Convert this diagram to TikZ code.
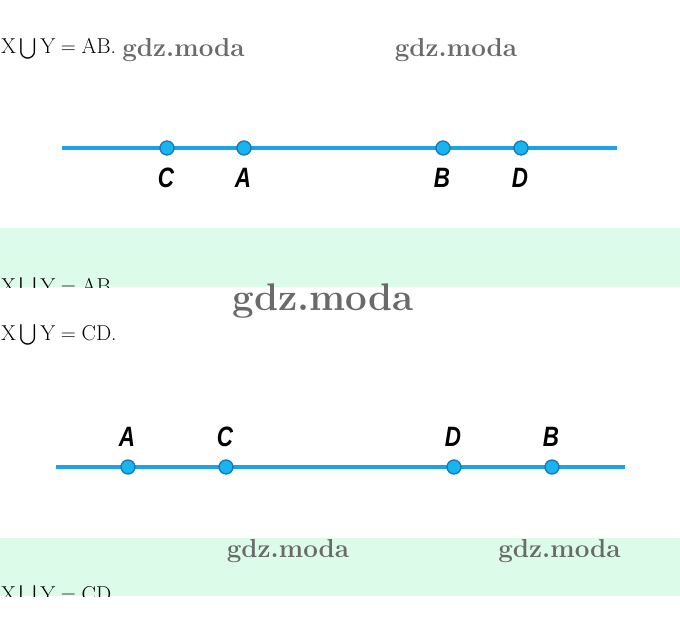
\documentclass[tikz,border=0pt]{standalone}
\usepackage{amsmath}
\usepackage{fontspec}
\setmainfont{Latin Modern Roman}
\newfontfamily\lblfont[FakeStretch=0.8]{Liberation Sans}
\definecolor{linecol}{HTML}{1BA3E6}
\definecolor{ptfill}{HTML}{19B4F0}
\definecolor{ptdraw}{HTML}{1779B8}
\definecolor{bandcol}{HTML}{DCFCE9}
\definecolor{wmcol}{HTML}{6A6A6A}
\begin{document}
\begin{tikzpicture}[x=1pt,y=-1pt,
  eqtext/.style={anchor=base west,inner sep=0pt,font=\fontsize{21.5}{25}\selectfont},
  wmark/.style={inner sep=0pt,text=wmcol,font=\fontsize{26}{30}\selectfont\bfseries},
  bigwmark/.style={wmark,font=\fontsize{38.5}{44}\selectfont\bfseries},
  axisline/.style={line width=4pt,color=linecol},
  ptdot/.style={circle,fill=ptfill,draw=ptdraw,line width=1.3pt,minimum size=14pt,inner sep=0pt},
  ptlabel/.style={inner sep=0pt,font=\fontsize{28}{32}\lblfont\bfseries\itshape},
  band/.style={fill=bandcol,draw=none}]
\useasboundingbox (0,0) rectangle (680,631);
\fill[white] (0,0) rectangle (680,631);
% text 1
\node[eqtext] (t1) at (1,54) {$\mathrm{X}\bigcup\mathrm{Y}=\mathrm{AB}$.};
% line 1
\coordinate (a1) at (62,148);
\coordinate (b1) at (617,148);
\draw[axisline] (a1) -- (b1);
\node[ptdot] (pC1) at (167,148) {};
\node[ptdot] (pA1) at (244,148) {};
\node[ptdot] (pB1) at (443,148) {};
\node[ptdot] (pD1) at (521,148) {};
\node[ptlabel] (lC1) at (166,178) {C};
\node[ptlabel] (lA1) at (243,178) {A};
\node[ptlabel] (lB1) at (442,178) {B};
\node[ptlabel] (lD1) at (520,178) {D};
% band 1
\path[band] (0,228) rectangle (680,287);
\begin{scope}
\clip (0,228) rectangle (680,287);
\node[eqtext] (t1c) at (1,293) {$\mathrm{X}\bigcup\mathrm{Y}=\mathrm{AB}$};
\end{scope}
% text 2
\node[eqtext] (t2) at (1,340) {$\mathrm{X}\bigcup\mathrm{Y}=\mathrm{CD}$.};
% line 2
\coordinate (a2) at (56,467);
\coordinate (b2) at (625,467);
\draw[axisline] (a2) -- (b2);
\node[ptdot] (pA2) at (128,467) {};
\node[ptdot] (pC2) at (226,467) {};
\node[ptdot] (pD2) at (454,467) {};
\node[ptdot] (pB2) at (552,467) {};
\node[ptlabel] (lA2) at (127,437) {A};
\node[ptlabel] (lC2) at (225,437) {C};
\node[ptlabel] (lD2) at (453,437) {D};
\node[ptlabel] (lB2) at (551,437) {B};
% band 2
\path[band] (0,538) rectangle (680,596);
\begin{scope}
\clip (0,538) rectangle (680,596);
\node[eqtext] (t2c) at (1,601) {$\mathrm{X}\bigcup\mathrm{Y}=\mathrm{CD}$};
\end{scope}
% watermarks
\node[wmark] (w1) at (183.5,50) {gdz.moda};
\node[wmark] (w2) at (456,50) {gdz.moda};
\node[bigwmark] (w3) at (323,301) {gdz.moda};
\node[wmark] (w4) at (288,551) {gdz.moda};
\node[wmark] (w5) at (559.5,551) {gdz.moda};
\end{tikzpicture}
\end{document}
